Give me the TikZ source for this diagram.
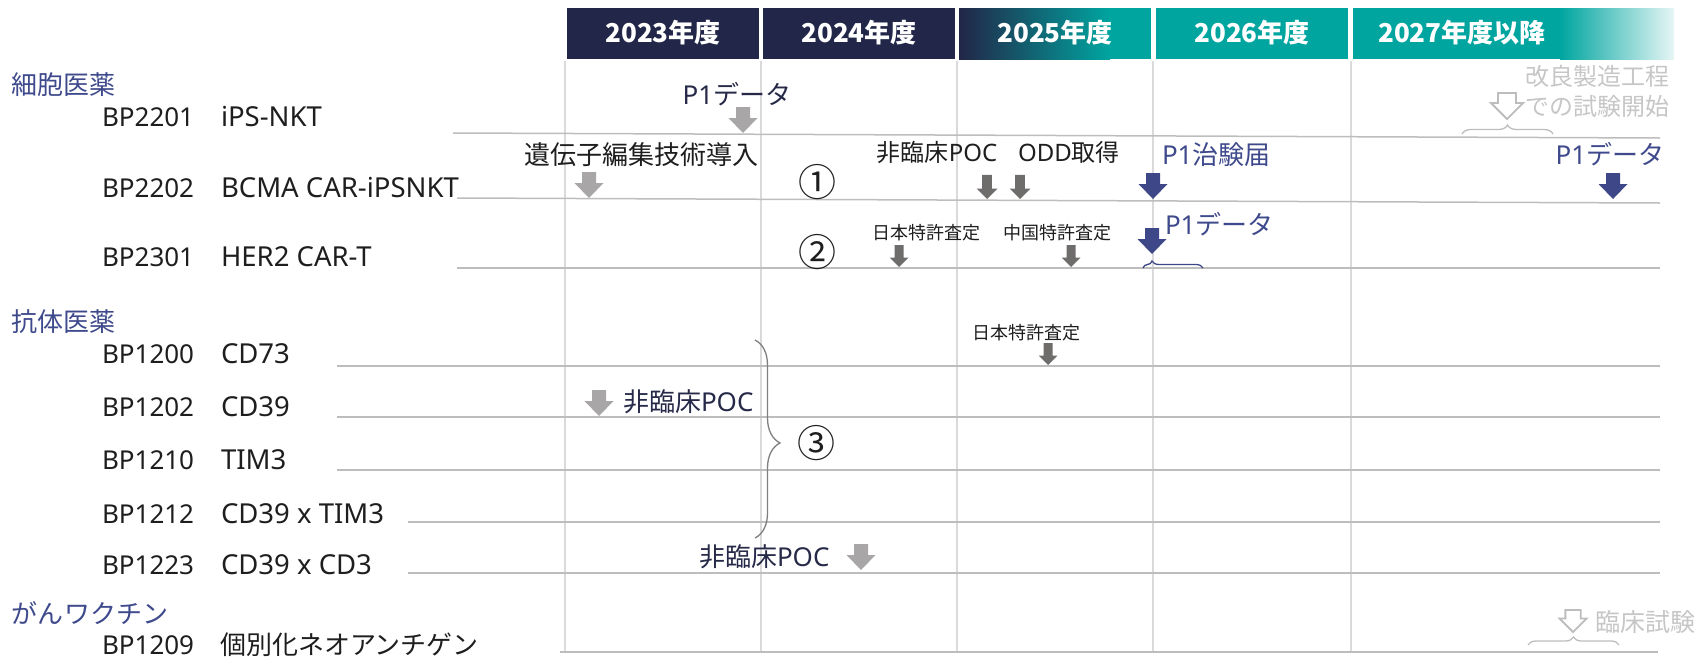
\documentclass[tikz,border=0pt]{standalone}
\usepackage{fontspec}
\setmainfont{Noto Sans}
\newfontfamily\jp{Noto Sans CJK JP}
\usetikzlibrary{decorations.pathreplacing}
\definecolor{navyhdr}{HTML}{222648}
\definecolor{tealhdr}{HTML}{00A5A0}
\definecolor{tealfade}{HTML}{E6F6F5}
\definecolor{catblue}{HTML}{3F4A8C}
\definecolor{arrnavy}{HTML}{3E4888}
\definecolor{arrlight}{HTML}{A8A6A6}
\definecolor{arrdark}{HTML}{6F6C6C}
\definecolor{gridc}{HTML}{DADADA}
\definecolor{rowc}{HTML}{BDBDBD}
\definecolor{ghost}{HTML}{C6C6C6}
\definecolor{ghostarr}{HTML}{BDBDBD}
\definecolor{bracegray}{HTML}{7F7F7F}
\definecolor{bodytxt}{HTML}{1E1E1E}
\definecolor{mstxt}{HTML}{262A48}
\begin{document}
\begin{tikzpicture}[x=1pt,y=-1pt,
  lbl/.style={inner sep=0pt, outer sep=0pt, text=bodytxt, font=\fontsize{26}{30}\selectfont},
  lblc/.style={lbl, font=\fontsize{27.5}{31}\selectfont},
  lblm/.style={lbl, font=\fontsize{24}{28}\selectfont},
  lbls/.style={lbl, font=\fontsize{18}{22}\selectfont},
  circ/.style={lbl, font=\jp\fontsize{38}{42}\selectfont},
  cat/.style={lbl, text=catblue},
  hdr/.style={inner sep=0pt, text=white, font=\jp\bfseries\fontsize{26}{30}\selectfont},
  gridline/.style={draw=gridc, line width=1.5pt},
  rowline/.style={draw=rowc, line width=1.5pt},
  bracedeco/.style={decorate, decoration={brace, amplitude=#1}},
  pics/bigarr/.style={code={\path[pic actions] (-7,-26) -- (7,-26) -- (7,-15) -- (14.5,-15) -- (0,0) -- (-14.5,-15) -- (-7,-15) -- cycle;}},
  pics/smallarr/.style={code={\path[pic actions] (-4.5,-22) -- (4.5,-22) -- (4.5,-9.5) -- (9.5,-9.5) -- (0,0) -- (-9.5,-9.5) -- (-4.5,-9.5) -- cycle;}},
  pics/openarr/.style={code={\path[pic actions] (-9,-26) -- (9,-26) -- (9,-16) -- (16,-16) -- (0,0) -- (-16,-16) -- (-9,-16) -- cycle;}},
]
\useasboundingbox (0,0) rectangle (1704,659);

% header
\fill[navyhdr] (567,8) rectangle (759,59);
\fill[navyhdr] (763,8) rectangle (955,59);
\shade[left color=navyhdr, right color=tealhdr] (959,8) rectangle (1110,59);
\fill[tealhdr] (1109,8) rectangle (1151,59);
\fill[tealhdr] (1156,8) rectangle (1348,59);
\fill[tealhdr] (1353,8) rectangle (1561,59);
\shade[left color=tealhdr, right color=tealfade] (1560,8) rectangle (1674,59);
\node[hdr, anchor=base] (h1) at (663,42.5) {2023年度};
\node[hdr, anchor=base] (h2) at (859,42.5) {2024年度};
\node[hdr, anchor=base] (h3) at (1055,42.5) {2025年度};
\node[hdr, anchor=base] (h4) at (1252,42.5) {2026年度};
\node[hdr, anchor=base west] (h5) at (1378,42.5) {2027年度以降};

% grid
\foreach \gx in {565,761,957,1153,1351} \draw[gridline] (\gx,61) -- (\gx,652);

% row lines
\draw[rowline] (453,133) -- (1660,138);
\draw[rowline] (457,198) -- (1660,203);
\draw[rowline] (457,268) -- (1660,268);
\draw[rowline] (337,366) -- (1660,366);
\draw[rowline] (337,417) -- (1660,417);
\draw[rowline] (337,470) -- (1660,470);
\draw[rowline] (408,522) -- (1660,522);
\draw[rowline] (408,573) -- (1660,573);
\draw[rowline] (560,652) -- (1658,652);

% row labels
\node[cat, anchor=base west] (c1) at (11,94) {\jp 細胞医薬};
\node[lbl, anchor=base west] (r1a) at (102,126) {BP2201};
\node[lblc, anchor=base west] (r1b) at (221,126) {iPS-NKT};
\node[lbl, anchor=base west] (r2a) at (102,197) {BP2202};
\node[lblc, anchor=base west] (r2b) at (221,197) {BCMA CAR-iPSNKT};
\node[lbl, anchor=base west] (r3a) at (102,266) {BP2301};
\node[lblc, anchor=base west] (r3b) at (221,266) {HER2 CAR-T};
\node[cat, anchor=base west] (c2) at (11,331) {\jp 抗体医薬};
\node[lbl, anchor=base west] (r4a) at (102,363) {BP1200};
\node[lblc, anchor=base west] (r4b) at (221,363) {CD73};
\node[lbl, anchor=base west] (r5a) at (102,416) {BP1202};
\node[lblc, anchor=base west] (r5b) at (221,416) {CD39};
\node[lbl, anchor=base west] (r6a) at (102,469) {BP1210};
\node[lblc, anchor=base west] (r6b) at (221,469) {TIM3};
\node[lbl, anchor=base west] (r7a) at (102,523) {BP1212};
\node[lblc, anchor=base west] (r7b) at (221,523) {CD39 x TIM3};
\node[lbl, anchor=base west] (r8a) at (102,574) {BP1223};
\node[lblc, anchor=base west] (r8b) at (221,574) {CD39 x CD3};
\node[cat, anchor=base west] (c3) at (12,623) {\jp がんワクチン};
\node[lbl, anchor=base west] (r9a) at (102,654) {BP1209};
\node[lbl, anchor=base west] (r9b) at (220,654) {\jp 個別化ネオアンチゲン};

% BP2201
\node[lbl, text=mstxt, anchor=base] (m1) at (737,104) {P1{\jp データ}};
\pic[fill=arrlight] at (743,133) {bigarr};
\node[lblm, text=ghost, anchor=base east] (g1) at (1669,85) {\jp 改良製造工程};
\node[lblm, text=ghost, anchor=base east] (g2) at (1669,115) {\jp での試験開始};
\pic[draw=ghostarr, fill=white, line width=1.8pt] at (1507,119) {openarr};
\draw[draw=ghostarr, line width=1.3pt, bracedeco=9pt] (1462,134) -- (1553,134);

% BP2202
\node[lbl, anchor=base] (m2) at (641,164) {\jp 遺伝子編集技術導入};
\pic[fill=arrlight] at (589,198) {bigarr};
\node[circ, anchor=center] (n1) at (817,182.5) {①};
\node[lblm, anchor=base] (m3) at (937,161) {{\jp 非臨床}POC};
\node[lblm, anchor=base] (m4) at (1069,161) {ODD{\jp 取得}};
\pic[fill=arrdark, scale=1.1] at (987,199) {smallarr};
\pic[fill=arrdark, scale=1.1] at (1020,199) {smallarr};
\node[lbl, text=catblue, anchor=base west] (m5) at (1162,164) {P1{\jp 治験届}};
\pic[fill=arrnavy] at (1153,199) {bigarr};
\node[lbl, text=catblue, anchor=base] (m6) at (1610,164) {P1{\jp データ}};
\pic[fill=arrnavy] at (1613,199) {bigarr};

% BP2301
\node[circ, anchor=center] (n2) at (817,252.5) {②};
\node[lbls, anchor=base] (m7) at (926,239.5) {\jp 日本特許査定};
\pic[fill=arrdark] at (899,267) {smallarr};
\node[lbls, anchor=base] (m8) at (1057,239.5) {\jp 中国特許査定};
\pic[fill=arrdark] at (1071,267) {smallarr};
\pic[fill=arrnavy] at (1152,254) {bigarr};
\node[lbl, text=catblue, anchor=base west] (m9) at (1165,234) {P1{\jp データ}};
\draw[draw=arrnavy, line width=1.3pt, decorate, decoration={brace, amplitude=7pt, aspect=0.15}] (1143,268) -- (1203,268);

% antibodies
\node[lbls, anchor=base] (m10) at (1026,339.5) {\jp 日本特許査定};
\pic[fill=arrdark] at (1048,365) {smallarr};
\pic[fill=arrlight] at (599,416) {bigarr};
\node[lbl, text=mstxt, anchor=base west] (m11) at (623,411) {{\jp 非臨床}POC};
\draw[draw=bracegray, line width=1.3pt, decorate, decoration={brace, amplitude=25pt, aspect=0.52}] (755,340) -- (755,538);
\node[circ, anchor=center] (n3) at (816,443) {③};
\node[lbl, text=mstxt, anchor=base west] (m12) at (699,566) {{\jp 非臨床}POC};
\pic[fill=arrlight] at (861,570) {bigarr};

% vaccine
\pic[draw=ghostarr, fill=white, line width=1.8pt, scale=0.85] at (1573,632) {openarr};
\node[lbl, text=ghost, font=\fontsize{25}{29}\selectfont, anchor=base west] (g3) at (1595,631) {\jp 臨床試験};
\draw[draw=ghostarr, line width=1.3pt, bracedeco=8pt] (1528,645) -- (1619,645);
\end{tikzpicture}
\end{document}
